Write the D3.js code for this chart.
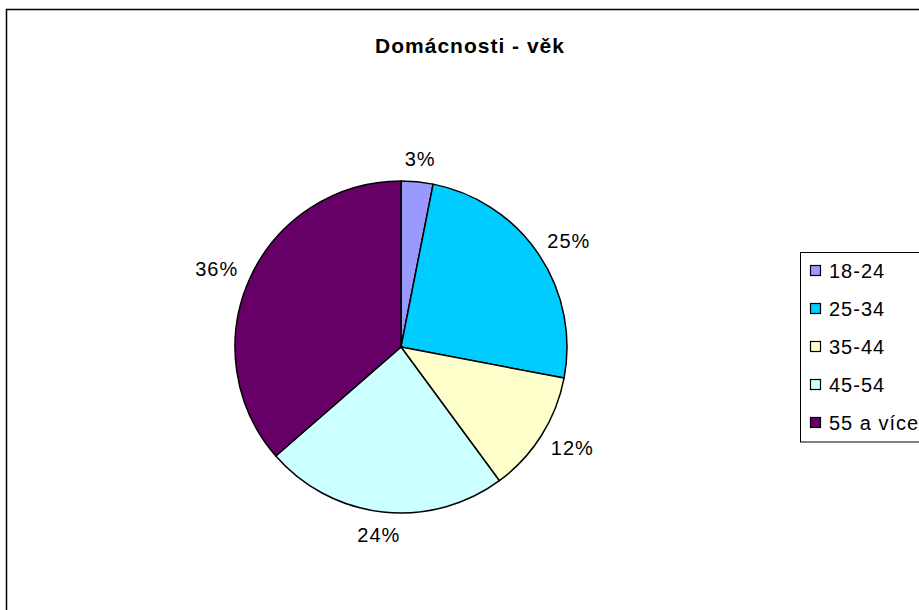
<!DOCTYPE html>
<html>
<head>
<meta charset="utf-8">
<script src="https://cdn.jsdelivr.net/npm/d3@7"></script>
<style>
	body { margin: 0; background: #fff; }
	text { font-family: "Liberation Sans", Arial, sans-serif; }
</style>
</head>
<body>
<script>
// data
var categories = ['18-24', '25-34', '35-44', '45-54', '55 a více'];
var shares = [3.1, 24.9, 11.9, 23.7, 36.4];
var colors = ['#9999FF', '#00CCFF', '#FFFFCC', '#CCFFFF', '#660066'];
var title = 'Domácnosti - věk';

var w = 919, h = 610;
var cx = 401, cy = 347, radius = 166;

var svg = d3.select('body')
			.append('svg')
			.attr('width', w)
			.attr('height', h);

// outer chart frame (runs off right and bottom)
svg.append('rect')
   .attr('x', 6.5)
   .attr('y', 9.5)
   .attr('width', 1000)
   .attr('height', 1000)
   .attr('fill', '#fff')
   .attr('stroke', '#000')
   .attr('stroke-width', 1.5);

svg.append('text')
   .attr('x', 470)
   .attr('y', 53)
   .attr('text-anchor', 'middle')
   .attr('font-size', 21)
   .attr('font-weight', 'bold')
   .attr('letter-spacing', 1)
   .text(title);

var data = categories.map(function(c, i){
	return {name: c, value: shares[i], color: colors[i]};
});

var pie = d3.pie()
			.sort(null)
			.value(function(d){ return d.value; });

var arc = d3.arc()
			.innerRadius(0)
			.outerRadius(radius);

var g = svg.append('g')
		   .attr('transform', 'translate(' + cx + ',' + cy + ')');

var arcs = pie(data);

g.selectAll('path')
 .data(arcs)
 .enter()
 .append('path')
 .attr('d', arc)
 .attr('fill', function(d){ return d.data.color; })
 .attr('stroke', '#000')
 .attr('stroke-width', 1.5)
 .attr('stroke-linejoin', 'round');

// labels sit just outside the rim, pushed out by half their box
var labelR = 181;
var labels = g.selectAll('text.lbl')
 .data(arcs)
 .enter()
 .append('text')
 .attr('class', 'lbl')
 .attr('text-anchor', 'middle')
 .attr('dy', '0.35em')
 .attr('font-size', 20)
 .attr('letter-spacing', 1)
 .text(function(d){
	 return Math.round(d.data.value) + '%';
 });

labels.each(function(d){
	var a = (d.startAngle + d.endAngle)/2;
	var tw = this.getComputedTextLength();
	var th = 16;
	var x = (labelR + tw/2)*Math.sin(a);
	var y = -(labelR + th/2)*Math.cos(a);
	d3.select(this).attr('x', x).attr('y', y);
});

// legend box
var legend = svg.append('g');

legend.append('rect')
	  .attr('x', 800.5)
	  .attr('y', 252.5)
	  .attr('width', 200)
	  .attr('height', 189.5)
	  .attr('fill', '#fff')
	  .attr('stroke', '#000')
	  .attr('stroke-width', 1);

var rows = legend.selectAll('g.row')
				 .data(data)
				 .enter()
				 .append('g')
				 .attr('class', 'row')
				 .attr('transform', function(d, i){
					 return 'translate(0,' + (271 + i*38) + ')';
				 });

rows.append('rect')
	.attr('x', 810.5)
	.attr('y', -5.5)
	.attr('width', 10)
	.attr('height', 10)
	.attr('fill', function(d){ return d.color; })
	.attr('stroke', '#000')
	.attr('stroke-width', 1.2);

rows.append('text')
	.attr('x', 829)
	.attr('y', 0)
	.attr('dy', '0.35em')
	.attr('font-size', 20)
	.attr('letter-spacing', 1)
	.text(function(d){ return d.name; });
</script>
</body>
</html>
